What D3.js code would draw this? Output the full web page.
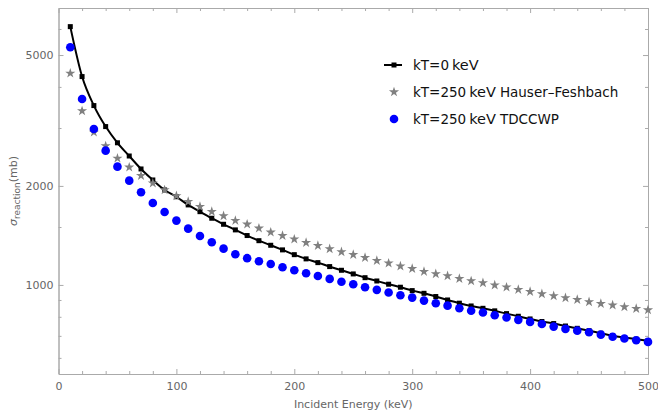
<!DOCTYPE html>
<html>
<head>
<meta charset="utf-8">
<script src="https://cdn.jsdelivr.net/npm/d3@7"></script>
<style>
  body { margin: 0; background: #fff; }
  svg { display: block; font-family: "DejaVu Sans", sans-serif; }
</style>
</head>
<body>
<script>
// incident energies (keV)
const energy = d3.range(10, 501, 10);

// kT = 0 keV (line + squares)
const kt0 = [6100, 4300, 3510, 3030, 2705, 2466, 2252, 2085, 1944, 1854,
  1751, 1670, 1595, 1529, 1470, 1413, 1363, 1320, 1278, 1236,
  1200, 1169, 1137, 1108, 1080, 1052, 1028, 1005, 984, 961,
  943, 922, 900, 880, 863, 849, 834, 818, 803, 788,
  774, 763, 750, 738, 726, 713, 701, 692, 684, 676];

// kT = 250 keV Hauser-Feshbach (stars)
const hauser = [4400, 3380, 2911, 2645, 2427, 2279, 2148, 2038, 1944, 1865,
  1791, 1730, 1670, 1621, 1569, 1529, 1487, 1446, 1412, 1377,
  1345, 1316, 1287, 1260, 1236, 1210, 1185, 1164, 1140, 1121,
  1098, 1080, 1065, 1045, 1028, 1014, 998, 984, 968, 954,
  939, 926, 913, 902, 888, 877, 868, 857, 847, 839];

// kT = 250 keV TDCCWP (circles)
const tdcc = [5280, 3675, 2980, 2560, 2289, 2075, 1913, 1775, 1667, 1569,
  1483, 1409, 1348, 1289, 1240, 1206, 1180, 1158, 1132, 1108,
  1085, 1065, 1043, 1023, 1005, 984, 966, 948, 930, 915,
  896, 880, 865, 849, 835, 824, 809, 796, 783, 772,
  761, 747, 735, 726, 718, 706, 696, 687, 679, 671];

const xTicks = [0, 100, 200, 300, 400, 500];
const xMinor = d3.range(0, 501, 20).filter(d => d % 100 !== 0);
const yTicks = [1000, 2000, 5000];
const yMinor = [600, 700, 800, 900, 1500, 3000, 4000, 6000];

const width = 658, height = 413;
const mLeft = 58.5, mRight = 648, mTop = 8, mBottom = 374;

const svg = d3.select("body").append("svg")
  .attr("width", width)
  .attr("height", height);

const x = d3.scaleLinear().domain([0, 500]).range([mLeft, mRight]);
const y = d3.scaleLog().domain([536, 6950]).range([mBottom, mTop]);

const frameColor = "#aaa";
const labelColor = "#666";

// frame + ticks
function styleAxis(g) {
  g.attr("font-family", "DejaVu Sans").attr("font-size", 11);
  g.select(".domain").attr("stroke", frameColor);
  g.selectAll(".tick line").attr("stroke", frameColor);
  g.selectAll(".tick text").attr("fill", labelColor);
}

svg.append("g").attr("transform", `translate(0,${mBottom})`)
  .call(d3.axisBottom(x).tickValues(xTicks).tickSize(-5).tickSizeOuter(0).tickPadding(8))
  .call(styleAxis);
svg.append("g").attr("transform", `translate(0,${mBottom})`)
  .call(d3.axisBottom(x).tickValues(xMinor).tickSize(-3).tickSizeOuter(0).tickFormat(""))
  .call(styleAxis);
svg.append("g").attr("transform", `translate(0,${mTop})`)
  .call(d3.axisTop(x).tickValues(xTicks).tickSize(-5).tickSizeOuter(0).tickFormat(""))
  .call(styleAxis);
svg.append("g").attr("transform", `translate(0,${mTop})`)
  .call(d3.axisTop(x).tickValues(xMinor).tickSize(-3).tickSizeOuter(0).tickFormat(""))
  .call(styleAxis);

svg.append("g").attr("transform", `translate(${mLeft},0)`)
  .call(d3.axisLeft(y).tickValues(yTicks).tickSize(-5).tickSizeOuter(0).tickPadding(5).tickFormat(d3.format("d")))
  .call(styleAxis);
svg.append("g").attr("transform", `translate(${mLeft},0)`)
  .call(d3.axisLeft(y).tickValues(yMinor).tickSize(-3).tickSizeOuter(0).tickFormat(""))
  .call(styleAxis);
svg.append("g").attr("transform", `translate(${mRight},0)`)
  .call(d3.axisRight(y).tickValues(yTicks).tickSize(-5).tickSizeOuter(0).tickFormat(""))
  .call(styleAxis);
svg.append("g").attr("transform", `translate(${mRight},0)`)
  .call(d3.axisRight(y).tickValues(yMinor).tickSize(-3).tickSizeOuter(0).tickFormat(""))
  .call(styleAxis);

// axis titles
svg.append("text")
  .attr("x", (mLeft + mRight) / 2)
  .attr("y", 408)
  .attr("text-anchor", "middle")
  .attr("fill", labelColor)
  .style("font-size", "11px")
  .text("Incident Energy (keV)");

const ylab = svg.append("text")
  .attr("transform", `translate(17,${(mTop + mBottom) / 2}) rotate(-90)`)
  .attr("text-anchor", "middle")
  .attr("fill", labelColor)
  .style("font-size", "11px");
ylab.append("tspan").style("font-style", "italic").text("σ");
ylab.append("tspan").attr("dy", 3).style("font-size", "9px").text("reaction");
ylab.append("tspan").attr("dy", -3).text("(mb)");

// data
const pts = (vals) => energy.map((e, i) => ({e, v: vals[i]}));

const line = d3.line()
  .x(d => x(d.e))
  .y(d => y(d.v))
  .curve(d3.curveMonotoneX);

svg.append("path")
  .datum(pts(kt0))
  .attr("fill", "none")
  .attr("stroke", "#000")
  .attr("stroke-width", 2)
  .attr("d", line);

svg.append("g").selectAll("rect")
  .data(pts(kt0))
  .join("rect")
  .attr("x", d => x(d.e) - 2.5)
  .attr("y", d => y(d.v) - 2.5)
  .attr("width", 5)
  .attr("height", 5)
  .attr("fill", "#000");

const star = d3.symbol().type(d3.symbolStar).size(32);

svg.append("g").selectAll("path")
  .data(pts(hauser))
  .join("path")
  .attr("transform", d => `translate(${x(d.e)},${y(d.v)})`)
  .attr("d", star)
  .attr("fill", "#808080");

svg.append("g").selectAll("circle")
  .data(pts(tdcc))
  .join("circle")
  .attr("cx", d => x(d.e))
  .attr("cy", d => y(d.v))
  .attr("r", 4.3)
  .attr("fill", "#0000ff");

// legend
const legend = svg.append("g");
const lx = 394, textX = 413;
const rows = [
  {y: 65, pre: "kT=0", post: ""},
  {y: 92, pre: "kT=250", post: "Hauser–Feshbach"},
  {y: 119, pre: "kT=250", post: "TDCCWP"}
];

legend.append("line")
  .attr("x1", lx - 10).attr("x2", lx + 8)
  .attr("y1", rows[0].y).attr("y2", rows[0].y)
  .attr("stroke", "#000").attr("stroke-width", 2);
legend.append("rect")
  .attr("x", lx - 2.5).attr("y", rows[0].y - 2.5)
  .attr("width", 5).attr("height", 5).attr("fill", "#000");
legend.append("path")
  .attr("transform", `translate(${lx},${rows[1].y})`)
  .attr("d", star)
  .attr("fill", "#808080");
legend.append("circle")
  .attr("cx", lx).attr("cy", rows[2].y).attr("r", 4.3)
  .attr("fill", "#0000ff");

rows.forEach(r => {
  const t = legend.append("text")
    .attr("x", textX)
    .attr("y", r.y + 5)
    .attr("fill", "#111")
    .style("font-size", "13.5px");
  t.append("tspan").text(r.pre);
  t.append("tspan").attr("dx", 3).style("font-size", "14.5px").text("keV");
  if (r.post) t.append("tspan").attr("dx", 4).text(r.post);
});
</script>
</body>
</html>
